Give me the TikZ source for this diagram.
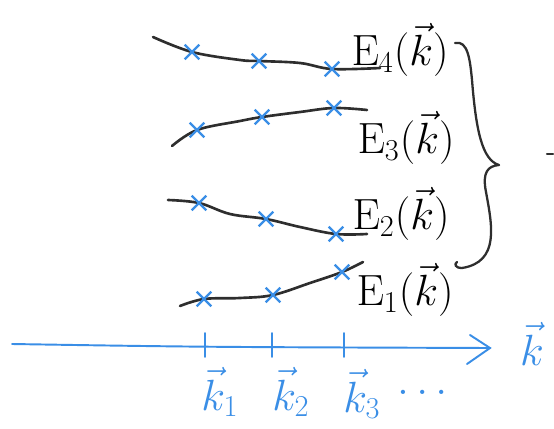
\documentclass[tikz,border=0pt]{standalone}
\usepackage{amsmath}
\usepackage{xcolor}
\usepackage{tikz}
\usetikzlibrary{arrows.meta,positioning,shapes.misc}
\definecolor{kpencil}{HTML}{2E2E2E}
\definecolor{kblue}{HTML}{3A8EE6}

\begin{document}
\begin{tikzpicture}[x=0.02cm,y=-0.02cm,
  band/.style={kpencil,line width=1.5pt,line cap=round,line join=round},
  xmark/.style={cross out,draw=kblue,line width=1.3pt,minimum size=7pt,inner sep=0pt},
  elabel/.style={font=\fontsize{25}{29}\selectfont,inner sep=0pt},
  klabel/.style={text=kblue,font=\fontsize{24}{28}\selectfont,inner sep=0pt},
  axis/.style={kblue,line width=1.1pt,line cap=round}]
  \useasboundingbox (0,0) rectangle (554,429);

  % bands E_4 ... E_1
  \draw[band] plot[smooth,tension=0.6] coordinates {(153,37) (192,52) (240,60) (259,61) (300,63) (332,69) (380,68)};
  \draw[band] plot[smooth,tension=0.6] coordinates {(172,146) (197,130) (240,121) (262,117) (300,112) (334,108) (367,110)};
  \draw[band] plot[smooth,tension=0.6] coordinates {(168,200) (199,203) (230,214) (266,219) (300,227) (336,234) (367,234)};
  \draw[band] plot[smooth,tension=0.6] coordinates {(180,306) (204,299) (240,298) (273,295) (310,283) (342,272) (363,262)};

  % sampled points
  \foreach \n/\x/\y in {a/192/52, b/259/61, c/332/69,
                        d/197/130, e/262/117, f/334/108,
                        g/199/203, h/266/219, i/336/234,
                        j/204/299, k/273/295, l/342/272}
    \node[xmark] (x\n) at (\x,\y) {};

  % band labels
  \node[elabel] (e4) at (400,50) {$\mathrm{E}_4(\vec{k})$};
  \node[elabel] (e3) at (406,138) {$\mathrm{E}_3(\vec{k})$};
  \node[elabel] (e2) at (401,214) {$\mathrm{E}_2(\vec{k})$};
  \node[elabel] (e1) at (405,290) {$\mathrm{E}_1(\vec{k})$};

  % brace
  \draw[band,line width=1.3pt] (455,43) .. controls (468,40) and (470,60) .. (472,80)
    .. controls (476,130) and (482,160) .. (499,165)
    .. controls (488,166) and (482,172) .. (486,192)
    .. controls (492,225) and (500,262) .. (462,268)
    .. controls (455,268) and (454,264) .. (457,262);
  \draw[band,line width=1.2pt] (547,154) -- (553,154);

  % k axis
  \coordinate (ax0) at (12,344);
  \coordinate (ax1) at (490,348);
  \draw[axis] (ax0) .. controls (200,347) .. (ax1);
  \draw[axis] (470,335) -- (ax1) -- (467,364);
  \foreach \n/\x in {1/205,2/272,3/344} {
    \draw[axis] (\x,333) -- (\x,357);
  }
  \node[klabel] (k1) at (220,392) {$\vec{k}_1$};
  \node[klabel] (k2) at (291,392) {$\vec{k}_2$};
  \node[klabel] (k3) at (362,394) {$\vec{k}_3$};
  \node[klabel] (dots) at (426,392) {$\dots$};
  \node[klabel,font=\fontsize{34}{38}\selectfont] (kk) at (532,344) {$\vec{k}$};
\end{tikzpicture}
\end{document}
